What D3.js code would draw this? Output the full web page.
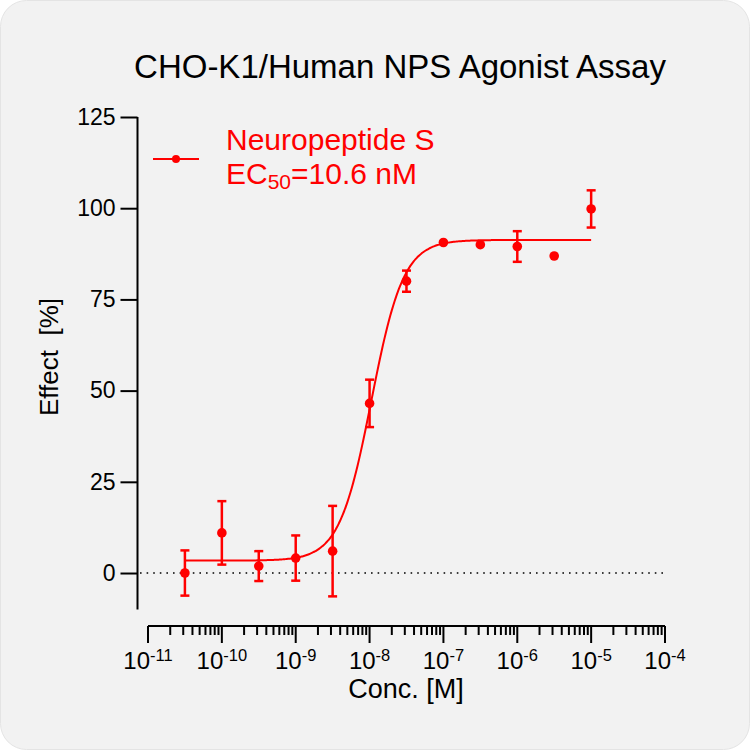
<!DOCTYPE html>
<html>
<head>
<meta charset="utf-8">
<script src="https://cdn.jsdelivr.net/npm/d3@7"></script>
<style>
html,body{margin:0;padding:0;background:#fff;}
text{font-family:"Liberation Sans",Arial,Helvetica,sans-serif;}
</style>
</head>
<body>
<svg id="chart" width="750" height="750"></svg>
<script>
// ---- data ----
const concentrations = [3.16e-11, 1e-10, 3.16e-10, 1e-9, 3.16e-9, 1e-8, 3.16e-8, 1e-7, 3.16e-7, 1e-6, 3.16e-6, 1e-5];
const effectMean = [0.0, 11.0, 1.9, 4.1, 6.0, 46.5, 80.0, 90.6, 90.0, 89.5, 86.9, 99.8];
const effectErr  = [6.2, 8.7, 4.1, 6.2, 12.4, 6.5, 2.9, 0, 0, 4.2, 0, 5.1];
const fitParams = [3.4, 91.3, 1.06e-8, 2.0]; // bottom, top, EC50, hill
const fitRange = [3.16e-11, 1e-5];
const yTicks = [0, 25, 50, 75, 100, 125];
const xTickExps = [-11, -10, -9, -8, -7, -6, -5, -4];
const titleText = "CHO-K1/Human NPS Agonist Assay";
const seriesName = "Neuropeptide S";
const ec50Label = ["EC", "50", "=10.6 nM"];
const xLabel = "Conc. [M]";
const yLabel = "Effect  [%]";

const RED = "#ff0000";
const svg = d3.select("#chart");

svg.append("rect").attr("x", 0.5).attr("y", 0.5).attr("width", 749).attr("height", 749)
  .attr("rx", 26).attr("fill", "#f2f2f2").attr("stroke", "#e4e4e4");

const x = d3.scaleLog().domain([1e-11, 1e-4]).range([148, 665]);
const y = d3.scaleLinear().domain([-10, 125]).range([609.5, 117]);

// title
svg.append("text").attr("x", 400).attr("y", 78).attr("text-anchor", "middle")
  .attr("font-size", 33).attr("fill", "#000").text(titleText);

// y axis
const yAxisG = svg.append("g").attr("transform", "translate(137.5,0)");
yAxisG.call(d3.axisLeft(y).tickValues(yTicks).tickSize(17).tickPadding(5).tickSizeOuter(0));
yAxisG.select(".domain").attr("stroke-width", 2).attr("d", `M0,${y(125)}V${y(-10)}`);
yAxisG.selectAll(".tick line").attr("stroke-width", 2);
yAxisG.selectAll(".tick text").attr("font-size", 23).attr("fill", "#000")
  .attr("font-family", "Liberation Sans, Arial, sans-serif");

// x axis
const xAxisG = svg.append("g").attr("transform", "translate(0,626)");
const minorTicks = [];
for (let e = -11; e < -4; e++) for (let m = 2; m <= 9; m++) minorTicks.push(m * Math.pow(10, e));
xAxisG.append("path").attr("d", `M${x(1e-11)},0H${x(1e-4)}`).attr("stroke", "#000").attr("stroke-width", 2).attr("fill", "none");
xAxisG.selectAll(".minor").data(minorTicks).join("line").attr("class", "minor")
  .attr("x1", d => x(d)).attr("x2", d => x(d)).attr("y1", 0).attr("y2", 9)
  .attr("stroke", "#000").attr("stroke-width", 2);
xAxisG.selectAll(".major").data(xTickExps).join("line").attr("class", "major")
  .attr("x1", d => x(Math.pow(10, d))).attr("x2", d => x(Math.pow(10, d))).attr("y1", 0).attr("y2", 17)
  .attr("stroke", "#000").attr("stroke-width", 2);
const xl = xAxisG.selectAll(".xlab").data(xTickExps).join("text").attr("class", "xlab")
  .attr("x", d => x(Math.pow(10, d))).attr("y", 43).attr("text-anchor", "middle")
  .attr("font-size", 24).attr("fill", "#000");
xl.append("tspan").text("10");
xl.append("tspan").attr("font-size", 16.5).attr("dy", -8.5).text(d => "-" + Math.abs(d));

// axis labels
svg.append("text").attr("x", 406).attr("y", 698).attr("text-anchor", "middle")
  .attr("font-size", 27).attr("fill", "#000").text(xLabel);
svg.append("text").attr("transform", "translate(58,357) rotate(-90)").attr("text-anchor", "middle")
  .attr("font-size", 26).attr("fill", "#000").attr("xml:space", "preserve").style("white-space", "pre").text(yLabel);

// zero dotted line
svg.append("line").attr("x1", 140).attr("x2", 665).attr("y1", y(0)).attr("y2", y(0))
  .attr("stroke", "#000").attr("stroke-width", 1.6).attr("stroke-dasharray", "1.6,5");

// fit curve
const [fitBottom, fitTop, fitEC50, fitHill] = fitParams;
const logs = d3.range(Math.log10(fitRange[0]), Math.log10(fitRange[1]) + 1e-9, 0.02);
const curvePts = logs.map(l => {
  const c = Math.pow(10, l);
  return [c, fitBottom + (fitTop - fitBottom) / (1 + Math.pow(fitEC50 / c, fitHill))];
});
svg.append("path").datum(curvePts)
  .attr("d", d3.line().x(d => x(d[0])).y(d => y(d[1])).curve(d3.curveMonotoneX))
  .attr("fill", "none").attr("stroke", RED).attr("stroke-width", 2);

// error bars
const pts = concentrations.map((c, i) => ({c, m: effectMean[i], e: effectErr[i]}));
const eb = svg.append("g").selectAll("g").data(pts.filter(d => d.e > 0)).join("g");
eb.append("line").attr("x1", d => x(d.c)).attr("x2", d => x(d.c))
  .attr("y1", d => y(d.m - d.e)).attr("y2", d => y(d.m + d.e)).attr("stroke", RED).attr("stroke-width", 2.5);
eb.append("line").attr("x1", d => x(d.c) - 4.5).attr("x2", d => x(d.c) + 4.5)
  .attr("y1", d => y(d.m + d.e)).attr("y2", d => y(d.m + d.e)).attr("stroke", RED).attr("stroke-width", 2.5);
eb.append("line").attr("x1", d => x(d.c) - 4.5).attr("x2", d => x(d.c) + 4.5)
  .attr("y1", d => y(d.m - d.e)).attr("y2", d => y(d.m - d.e)).attr("stroke", RED).attr("stroke-width", 2.5);

// points
svg.append("g").selectAll("circle").data(pts).join("circle")
  .attr("cx", d => x(d.c)).attr("cy", d => y(d.m)).attr("r", 4.8).attr("fill", RED);

// legend
svg.append("line").attr("x1", 153).attr("x2", 199).attr("y1", 159).attr("y2", 159).attr("stroke", RED).attr("stroke-width", 2);
svg.append("circle").attr("cx", 176).attr("cy", 159).attr("r", 4).attr("fill", RED);
svg.append("text").attr("x", 226).attr("y", 150).attr("font-size", 30).attr("fill", RED).text(seriesName);
const ecT = svg.append("text").attr("x", 226).attr("y", 184).attr("font-size", 30).attr("fill", RED);
ecT.append("tspan").text(ec50Label[0]);
ecT.append("tspan").attr("font-size", 21).attr("dy", 5).text(ec50Label[1]);
ecT.append("tspan").attr("dy", -5).text(ec50Label[2]);
</script>
</body>
</html>
